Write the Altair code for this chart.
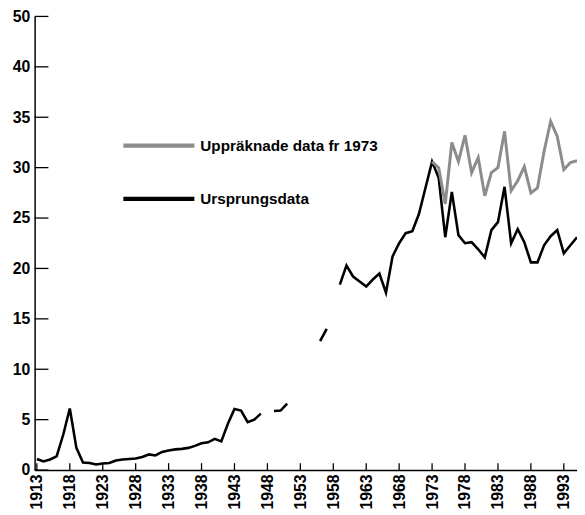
import altair as alt
import pandas as pd

# ---- data ----
orig_years = (list(range(1913, 1948)) + [1949, 1950, 1951] + [1956, 1957]
              + list(range(1959, 1996)))
orig_values = [1.1, 0.85, 1.05, 1.35, 3.5, 6.1, 2.2, 0.75, 0.7, 0.55,
               0.65, 0.7, 0.95, 1.05, 1.1, 1.15, 1.3, 1.55, 1.45, 1.8,
               1.95, 2.05, 2.1, 2.2, 2.4, 2.65, 2.75, 3.1, 2.85, 4.6,
               6.05, 5.9, 4.75, 5.0, 5.6,
               5.85, 5.9, 6.6,
               12.8, 14.0,
               18.4, 20.3, 19.2, 18.7, 18.2, 18.9, 19.5, 17.6, 21.2, 22.5,
               23.5, 23.7, 25.4, 28.0, 30.6, 29.0, 23.1, 27.6, 23.3, 22.5,
               22.6, 21.9, 21.1, 23.8, 24.6, 28.1, 22.5, 23.9, 22.6, 20.6,
               20.6, 22.3, 23.2, 23.8, 21.5, 22.3, 23.1]
up_years = list(range(1973, 1996))
up_values = [30.6, 30.0, 26.4, 32.5, 30.6, 33.2, 29.5, 31.0, 27.2, 29.5,
             30.0, 33.6, 27.7, 28.7, 30.1, 27.5, 28.0, 31.6, 34.6, 33.1,
             29.8, 30.5, 30.7]
series_names = ["Uppräknade data fr 1973", "Ursprungsdata"]
x_tick_values = list(range(1913, 1994, 5))
y_tick_values = [0, 5, 10, 15, 20, 25, 30, 35, 40, 45]
y_tick_labels = ["0", "5", "10", "15", "20", "25", "30", "35", "40", "50"]

# ---- tables ----
seg = []
s = 0
for i, yr in enumerate(orig_years):
    if i > 0 and yr - orig_years[i - 1] > 1:
        s += 1
    seg.append(s)
orig_df = pd.DataFrame({"year": orig_years, "value": orig_values, "seg": seg})
up_df = pd.DataFrame({"year": up_years, "value": up_values})
xt_df = pd.DataFrame({"year": x_tick_values})
yt_df = pd.DataFrame({"value": y_tick_values})

FONT = "Liberation Sans"
label_expr = " : ".join(
    f"datum.value == {v} ? '{l}'" for v, l in zip(y_tick_values, y_tick_labels)
) + " : datum.label"

xscale = alt.Scale(domain=[1912.66, 1995.0], nice=False, zero=False)
yscale = alt.Scale(domain=[0, 45], nice=False, zero=False)

x_axis = alt.Axis(values=x_tick_values, labelAngle=270, format="d",
                  labelPadding=4, labelFontSize=16,
                  labelFontWeight="bold", labelFont=FONT,
                  labelColor="black", domainColor="black",
                  domainWidth=1.5, ticks=False, grid=False,
                  labelOverlap=False)
y_axis = alt.Axis(values=y_tick_values, labelExpr=label_expr,
                  labelPadding=5, labelFontSize=16,
                  labelFontWeight="bold", labelFont=FONT,
                  labelColor="black", domainColor="black",
                  domainWidth=1.5, ticks=False, grid=False)


def X():
    return alt.X("year:Q", scale=xscale, title=None, axis=x_axis)


def Y():
    return alt.Y("value:Q", scale=yscale, title=None, axis=y_axis)


orig_line = alt.Chart(orig_df).mark_line(color="black", strokeWidth=2.6).encode(
    x=X(), y=Y(), detail="seg:N")

up_line = alt.Chart(up_df).mark_line(color="#8c8c8c", strokeWidth=3).encode(
    x=X(), y=Y())

ytick = alt.Chart(yt_df).mark_rule(color="black", strokeWidth=1.3).encode(
    y=Y(), x=alt.value(0), x2=alt.value(14))

xtick = alt.Chart(xt_df).mark_rule(color="black", strokeWidth=1.3).encode(
    x=X(), y=alt.value(460), y2=alt.value(453))

legend_layers = []
leg_colors = ["#8c8c8c", "black"]
leg_y = [131, 185]
for name, col, ly in zip(series_names, leg_colors, leg_y):
    ldf = pd.DataFrame({"label": [name]})
    legend_layers.append(
        alt.Chart(ldf).mark_rule(color=col, strokeWidth=4.5).encode(
            x=alt.value(90), x2=alt.value(162), y=alt.value(ly)))
    legend_layers.append(
        alt.Chart(ldf).mark_text(align="left", baseline="middle", fontSize=15.5,
                                 fontWeight="bold", font=FONT, color="black").encode(
            text="label:N", x=alt.value(168), y=alt.value(ly)))

chart = alt.layer(orig_line, up_line, ytick, xtick, *legend_layers).properties(
    width=550, height=460,
    autosize=alt.AutoSizeParams(type="none"),
    padding={"left": 27, "top": 5, "right": 0, "bottom": 40},
).configure_view(strokeWidth=0)

chart.save("out.html", embed_options={"renderer": "svg", "actions": False})
